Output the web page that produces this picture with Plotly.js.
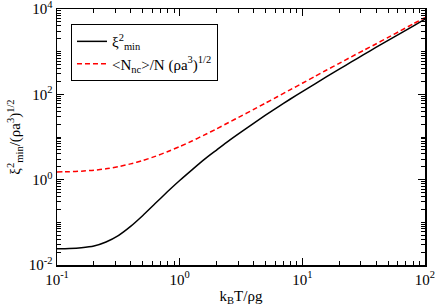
<!DOCTYPE html>
<html>
<head>
<meta charset="utf-8">
<script src="https://cdn.plot.ly/plotly-3.0.1.min.js"></script>
<style>html,body{margin:0;padding:0;background:#fff;}#chart{width:436px;height:308px;}</style>
</head>
<body>
<div id="chart"></div>
<script>
// x values (k_B T / rho g)
var xVals = [0.1, 0.126, 0.158, 0.2, 0.251, 0.316, 0.398, 0.501, 0.631, 0.794,
             1.0, 1.26, 1.58, 2.0, 2.51, 3.16, 3.98, 5.01, 6.31, 7.94,
             10, 12.6, 15.8, 20, 25.1, 31.6, 39.8, 50.1, 63.1, 79.4, 100];
// xi^2_min series
var xiMin = [0.0240, 0.0244, 0.0254, 0.0279, 0.0347, 0.0490, 0.0804, 0.145, 0.275, 0.519,
             0.955, 1.70, 2.95, 4.95, 8.13, 13.0, 20.7, 32.4, 50.1, 76.7,
             116, 174, 260, 389, 575, 851, 1259, 1841, 2692, 3936, 5754];
// <N_nc>/N (rho a^3)^{1/2} series
var nncRatio = [1.514, 1.538, 1.585, 1.667, 1.799, 2.018, 2.344, 2.818, 3.508, 4.519,
                5.957, 8.035, 11.09, 15.49, 21.88, 30.90, 43.65, 62.37, 89.13, 127.4,
                182.0, 260.0, 371.5, 530.9, 758.6, 1072, 1514, 2163, 3090, 4416, 6310];

var xMajor = [0.1, 1, 10, 100];
var xMajorText = ["10<sup>-1</sup>", "10<sup>0</sup>", "10<sup>1</sup>", "10<sup>2</sup>"];
var yMajor = [0.01, 1, 100, 10000];
var yMajorText = ["10<sup>-2</sup>", "10<sup>0</sup>", "10<sup>2</sup>", "10<sup>4</sup>"];

function minorTicks(lo, hi, skipEvery) {
  var out = [];
  for (var e = lo; e < hi; e++) {
    for (var m = 1; m <= 9; m++) {
      if (m === 1 && (e - lo) % skipEvery === 0) continue;
      out.push(m * Math.pow(10, e));
    }
  }
  return out;
}
var xMinor = minorTicks(-1, 2, 1);
var yMinor = minorTicks(-2, 4, 2);

var font = {family: "Liberation Serif, Times New Roman, serif", size: 15, color: "#000"};

var traces = [
  {x: xVals, y: xiMin, mode: "lines", type: "scatter",
   name: "ξ<sup>2</sup><sub>min</sub>",
   line: {color: "#000000", width: 1.5, shape: "spline", smoothing: 0.6}},
  {x: xVals, y: nncRatio, mode: "lines", type: "scatter",
   name: "&lt;N<sub>nc</sub>&gt;/N (ρa<sup>3</sup>)<sup>1/2</sup>",
   line: {color: "#ff0000", width: 1.5, dash: "5px,3px", shape: "spline", smoothing: 0.6}}
];

var axisCommon = {
  type: "log", showgrid: false, zeroline: false,
  showline: true, linecolor: "#000", linewidth: 1.5, mirror: "allticks",
  ticks: "inside", ticklen: 7, tickwidth: 1, tickcolor: "#000",
  tickmode: "array", tickfont: font, ticklabeloverflow: "allow"
};

var layout = {
  width: 436, height: 308,
  margin: {l: 57, r: 11, t: 9, b: 43},
  paper_bgcolor: "#fff", plot_bgcolor: "#fff",
  font: font,
  showlegend: true,
  legend: {x: 0.038, y: 0.941, xanchor: "left", yanchor: "top",
           bgcolor: "#fff", bordercolor: "#000", borderwidth: 1,
           font: font, tracegroupgap: 0},
  xaxis: Object.assign({}, axisCommon, {
    range: [-1, 2.0002], tickvals: xMajor, ticktext: xMajorText,
    minor: {tickmode: "array", tickvals: xMinor, ticklen: 4, tickcolor: "#000", tickwidth: 1, ticks: "inside"},
    title: {text: "k<sub>B</sub>T/ρg", font: font, standoff: 4}
  }),
  yaxis: Object.assign({}, axisCommon, {
    range: [-2.0002, 4.0002], tickvals: yMajor, ticktext: yMajorText,
    minor: {tickmode: "array", tickvals: yMinor, ticklen: 4, tickcolor: "#000", tickwidth: 1, ticks: "inside"},
    title: {text: "ξ<sup>2</sup><sub>min</sub>/(ρa<sup>3</sup>)<sup>1/2</sup>", font: font, standoff: 4}
  })
};

Plotly.newPlot("chart", traces, layout, {staticPlot: true, displayModeBar: false});
</script>
</body>
</html>
